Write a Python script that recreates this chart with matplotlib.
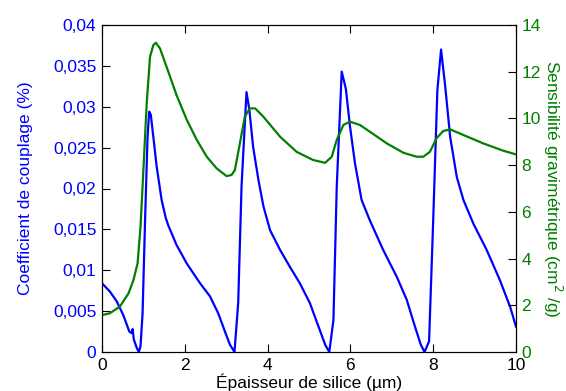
import matplotlib
matplotlib.use("Agg")
import matplotlib.pyplot as plt
from matplotlib.ticker import FuncFormatter

plt.rcParams['font.family'] = ['Liberation Sans', 'DejaVu Sans']

# Coupling coefficient (%) - blue
x_cpl = [0.0, 0.19, 0.355, 0.515, 0.66, 0.72, 0.74, 0.77, 0.84, 0.89, 0.93, 0.98, 1.04, 1.10, 1.14, 1.18,
         1.24, 1.32, 1.44, 1.54, 1.60, 1.80, 2.05, 2.37, 2.61, 2.81, 2.97, 3.09, 3.20,
         3.29, 3.37, 3.49, 3.56, 3.65, 3.78, 3.90, 4.06, 4.30, 4.54, 4.78, 5.02, 5.23, 5.39, 5.49,
         5.59, 5.67, 5.79, 5.89, 5.99, 6.11, 6.27, 6.47, 6.79, 7.12, 7.36, 7.56, 7.70, 7.79,
         7.90, 8.0, 8.10, 8.19, 8.29, 8.41, 8.57, 8.73, 8.97, 9.29, 9.61, 9.86, 10.0]
y_cpl = [0.0084, 0.0074, 0.0062, 0.0045, 0.0025, 0.0023, 0.0028, 0.0015, 0.0005, 0.0, 0.0007, 0.0047, 0.0161, 0.0263, 0.0294, 0.0290,
         0.0263, 0.0227, 0.0186, 0.0164, 0.0155, 0.0131, 0.0108, 0.0084, 0.0068, 0.0047, 0.0025, 0.0009, 0.0,
         0.0060, 0.0202, 0.0318, 0.0296, 0.0251, 0.0210, 0.0178, 0.0149, 0.0125, 0.0104, 0.0084, 0.0060, 0.0031, 0.0009, 0.0,
         0.0039, 0.0202, 0.0343, 0.0322, 0.0276, 0.0231, 0.0186, 0.0161, 0.0125, 0.0092, 0.0064, 0.0031, 0.0009, 0.0,
         0.0013, 0.0161, 0.0320, 0.0370, 0.0325, 0.0263, 0.0214, 0.0186, 0.0157, 0.0125, 0.0088, 0.0055, 0.0031]

# Gravimetric sensitivity (cm^2/g) - green
x_sens = [0.0, 0.19, 0.43, 0.64, 0.76, 0.86, 0.93, 1.0, 1.08, 1.16, 1.24, 1.30, 1.40, 1.56, 1.80, 2.05, 2.29,
          2.53, 2.77, 3.01, 3.13, 3.21, 3.33, 3.45, 3.57, 3.70, 3.90, 4.30, 4.70, 5.10, 5.39, 5.55, 5.67,
          5.83, 5.99, 6.23, 6.47, 6.88, 7.28, 7.60, 7.76, 7.92, 8.08, 8.24, 8.41, 8.73, 9.21, 9.69, 10.0]
y_sens = [1.58, 1.66, 1.94, 2.51, 3.08, 3.80, 5.36, 7.79, 10.65, 12.64, 13.14, 13.24, 13.0, 12.21, 11.0, 9.93, 9.08,
          8.36, 7.86, 7.53, 7.58, 7.79, 8.93, 10.07, 10.43, 10.43, 10.07, 9.22, 8.57, 8.22, 8.10, 8.36, 9.08,
          9.72, 9.86, 9.72, 9.43, 8.93, 8.53, 8.36, 8.36, 8.57, 9.15, 9.46, 9.53, 9.29, 8.93, 8.62, 8.46]

x_ticks = [0, 2, 4, 6, 8, 10]
left_ticks = [0, 0.005, 0.01, 0.015, 0.02, 0.025, 0.03, 0.035, 0.04]
right_ticks = [0, 2, 4, 6, 8, 10, 12, 14]

blue = '#0000ff'
green = '#007f00'
fs = 12.5

fig = plt.figure(figsize=(5.66, 3.91), dpi=100)
ax = fig.add_axes([102/566, 1-352/391, (516-102)/566, (352-25)/391])
ax2 = ax.twinx()

ax.plot(x_cpl, y_cpl, color=blue, lw=1.6)
ax2.plot(x_sens, y_sens, color=green, lw=1.6)

ax.set_xlim(0, 10)
ax.set_ylim(0, 0.04)
ax2.set_ylim(0, 14)
ax.set_xticks(x_ticks)
ax.set_yticks(left_ticks)
ax2.set_yticks(right_ticks)

def comma(v, pos):
    if v == 0:
        return '0'
    s = ('%.3f' % v).rstrip('0').rstrip('.')
    return s.replace('.', ',')

ax.yaxis.set_major_formatter(FuncFormatter(comma))

ax.tick_params(axis='x', direction='in', top=True, length=6, labelsize=fs, pad=4)
ax.tick_params(axis='y', direction='in', length=6, labelsize=fs, labelcolor=blue, pad=4)
ax2.tick_params(axis='y', direction='in', length=6, labelsize=fs, labelcolor=green, pad=4)

ax.set_xlabel('Épaisseur de silice (µm)', fontsize=fs, labelpad=1)
ax.set_ylabel('Coefficient de couplage (%)', fontsize=fs, color=blue, labelpad=14)
ax2.set_ylabel('Sensibilité gravimétrique (cm$^2$ /g)', fontsize=fs, color=green,
               rotation=270, labelpad=17)

fig.savefig('out.png', dpi=100)
